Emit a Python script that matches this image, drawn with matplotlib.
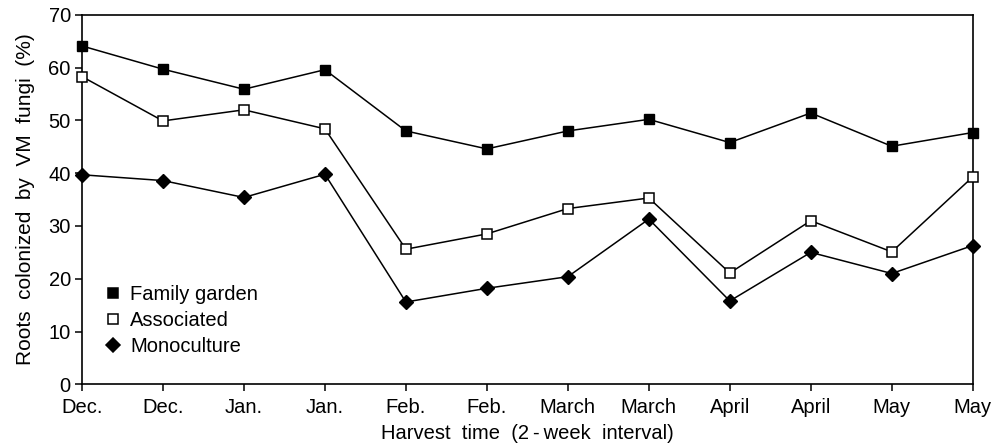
import numpy as np
import matplotlib
matplotlib.use("Agg")
import matplotlib.pyplot as plt

plt.rcParams['font.family'] = ['Liberation Sans', 'DejaVu Sans']

months = ["Dec.", "Dec.", "Jan.", "Jan.", "Feb.", "Feb.", "March", "March",
          "April", "April", "May", "May"]
family_garden = [64.1, 59.7, 55.9, 59.6, 48.0, 44.6, 48.0, 50.2, 45.8, 51.4, 45.1, 47.7]
associated = [58.3, 49.9, 52.0, 48.4, 25.6, 28.5, 33.3, 35.3, 21.1, 31.0, 25.1, 39.3]
monoculture = [39.7, 38.6, 35.4, 39.8, 15.6, 18.2, 20.4, 31.3, 15.8, 25.0, 21.0, 26.3]

x = np.arange(len(months))

fig = plt.figure(figsize=(10.02, 4.48), dpi=100)
ax = fig.add_axes([0.0818, 0.142, 0.889, 0.825])

ax.plot(x, family_garden, color='black', lw=1.1, marker='s', ms=7.5,
        mfc='black', mec='black', label='Family garden', clip_on=False, zorder=3)
ax.plot(x, associated, color='black', lw=1.1, marker='s', ms=7.5,
        mfc='white', mec='black', mew=1.1, label='Associated', clip_on=False, zorder=3)
ax.plot(x, monoculture, color='black', lw=1.1, marker='D', ms=7.5,
        mfc='black', mec='black', label='Monoculture', clip_on=False, zorder=3)

ax.set_xlim(0, 11)
ax.set_ylim(0, 70)
ax.set_xticks(x)
ax.set_xticklabels(months)
ax.set_yticks(np.arange(0, 71, 10))
ax.tick_params(direction='out', length=5, width=1.1, labelsize=14.5)
ax.tick_params(axis='x', pad=5)
ax.tick_params(axis='y', pad=3)
for sp in ax.spines.values():
    sp.set_linewidth(1.2)

ax.set_ylabel("Roots  colonized  by  VM  fungi  (%)", fontsize=15)
ax.yaxis.set_label_coords(-0.053, 0.5)
ax.set_xlabel("Harvest  time  (2\u2009-\u2009week  interval)", fontsize=14.5, labelpad=5)

# legend: markers only, no frame
handles, labels = ax.get_legend_handles_labels()
leg = ax.legend(handles=[plt.Line2D([], [], ls='none', marker=h.get_marker(),
                                    ms=h.get_markersize() * 0.95,
                                    mfc=h.get_markerfacecolor(),
                                    mec='black', mew=1.1) for h in handles],
                labels=labels, loc='lower left', bbox_to_anchor=(0.003, 0.027),
                frameon=False, fontsize=14.5, handletextpad=0.35,
                labelspacing=0.35, handlelength=1.0)

fig.savefig("out.png", dpi=100)
